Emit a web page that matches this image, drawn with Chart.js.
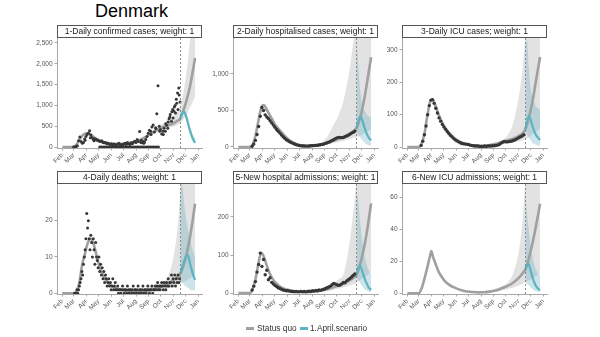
<!DOCTYPE html>
<html><head><meta charset="utf-8">
<script src="https://cdn.jsdelivr.net/npm/chart.js@4.4.1/dist/chart.umd.min.js"></script>
<style>
body{margin:0;background:#fff;width:600px;height:337px;overflow:hidden;position:relative;font-family:"Liberation Sans",Arial,sans-serif;}
canvas{position:absolute;}
#title{position:absolute;left:95px;top:2px;font-size:18px;line-height:18px;color:#000;}
.lg{position:absolute;top:323px;font-size:8.3px;line-height:10px;color:#333;white-space:nowrap;}
.sw{position:absolute;top:327px;width:8px;height:2.5px;}
</style></head><body>
<div id="title">Denmark</div>
<script>
// ---------- DATA ----------
const countryName = 'Denmark';
const seriesNames = ['Status quo', '1.April.scenario'];
const panelTitles = ['1-Daily confirmed cases; weight: 1','2-Daily hospitalised cases; weight: 1','3-Daily ICU cases; weight: 1','4-Daily deaths; weight: 1','5-New hospital admissions; weight: 1','6-New ICU admissions; weight: 1'];
const monthLabels = ['Feb','Mar','Apr','May','Jun','Jul','Aug','Sep','Oct','Nov','Dec','Jan'];
const monthDays = [32,60,91,121,152,182,213,244,274,305,335,366]; // day of year 2020
const xRange = [19, 375];
const todayDay = 322;

const fitDays = [32,60,67,74,81,88,91,95,102,109,116,123,137,151,165,179,193,207,221,235,249,263,277,291,305,315,322];
const projDays = [322,326,330,334,340,346,352,358];
const bandDays = [221,235,249,263,277,291,305,315,322,326,330,334,340,346,352,358];

// 1 - confirmed cases
const cases_obs = [0,2,10,30,150,240,130,90,110,190,250,300,330,390,290,230,180,200,190,160,170,140,130,150,110,100,110,80,90,70,60,80,50,70,60,40,70,90,50,60,40,70,90,60,110,80,60,100,80,120,140,110,180,130,370,110,100,130,120,180,250,330,400,380,480,530,360,460,800,1470,500,420,310,380,450,380,520,450,680,780,620,900,860,1000,1150,1300,1420,1080];
const cases_obsStart = 60, cases_obsStep = 3;
const cases_extraDays = [88,101,110,226,232,250,262,271,280,286,292,296,301,304,307,310,313,316,319];
const cases_extraVals = [160,220,150,160,90,300,440,380,300,560,600,720,850,700,960,820,1050,900,1250];
const cases_zeroDays = [124,128,132,136,140,144,148,152,156,160,164,168,172,176,180,184,188,192,196,200,204,208,212,216,220,224,228,232,236,240,244,248,252,256,260,264,268];
const cases_fit = [0,5,60,180,270,320,328,330,300,240,190,150,110,80,70,75,90,110,160,230,320,400,470,520,570,630,690];
const cases_sq = [690,800,900,1020,1230,1480,1800,2140];
const cases_sc = [690,800,850,800,600,380,210,100];
const cases_sqHi = [180,260,360,460,560,650,760,880,1000,1150,1350,1600,2050,2600,3000,3000];
const cases_sqLo = [140,200,280,350,410,450,490,530,570,620,680,740,840,950,1080,1220];
const cases_scHi = [700,830,900,860,660,460,300,200];
const cases_scLo = [680,760,790,700,480,300,150,60];
const cases_yTicks = [0,500,1000,1500,2000,2500];
const cases_yRange = [-24,2620];

// 2 - hospitalised
const hosp_obs = [10,40,90,170,280,420,540,500,440,410,390,360,330,300,270,240,215,190,165,140,120,100,85,72,60,50,40,32,25,20,16,14,13,12,12,14,16,18,20,22,24,27,30,35,40,50,58,66,75,88,100,112,125,132,130,128,130,140,150,160,175,190,200,215];
const hosp_obsStart = 66, hosp_obsStep = 4;
const hosp_fit = [0,0,30,150,350,530,565,575,510,440,370,300,210,125,65,32,18,15,18,30,50,80,110,140,180,220,255];
const hosp_sq = [255,310,380,460,620,810,1020,1230];
const hosp_sc = [255,340,410,400,300,200,130,90];
const hosp_sqHi = [30,60,130,270,420,650,1050,1450,1600,1600,1600,1600,1600,1600,1600,1600];
const hosp_sqLo = [12,20,32,48,65,85,105,125,135,145,155,165,185,205,225,245];
const hosp_scHi = [1400,1200,850,650,520,460,420,400];
const hosp_scLo = [240,180,140,110,70,40,25,20];
const hosp_yTicks = [0,500,1000];
const hosp_yRange = [-14,1493];

// 3 - ICU
const icu_obs = [5,18,38,65,100,128,145,146,135,120,105,90,80,70,62,55,48,42,36,31,26,22,19,16,13,11,10,9,9,8,6,5,4,3,3,3,2,2,2,3,2,3,3,3,4,4,5,6,8,12,15,17,16,16,17,18,19,21,23,26,29,32,34,38];
const icu_obsStart = 66, icu_obsStep = 4;
const icu_fit = [0,0,10,40,95,140,146,145,125,100,80,62,40,24,14,8,5,4,4,6,10,15,20,26,34,42,55];
const icu_sq = [55,70,88,108,145,190,235,278];
const icu_sc = [55,80,96,88,62,42,30,22];
const icu_sqHi = [5,8,12,20,35,70,150,240,340,360,360,360,360,360,360,360];
const icu_sqLo = [2,3,5,8,10,13,17,20,24,27,30,34,40,46,52,58];
const icu_scHi = [320,330,250,190,150,130,120,115];
const icu_scLo = [50,40,30,22,12,8,5,4];
const icu_yTicks = [0,100,200,300];
const icu_yRange = [-3,337];

// 4 - deaths
const death_obs = [0,0,0,1,0,1,2,3,4,6,5,8,10,12,15,22,18,20,15,12,16,14,10,15,12,8,14,10,9,7,10,6,8,5,7,4,6,3,5,4,2,3,4,2,3,1,2,4,1,2,3,1,1,2,0,1,1,0,1,2,1,0,1,1,0,2,1,0,1,1,0,1,2,0,1,1,0,1,2,0,1,1,0,1,2,0,1,1,0,1,2,1,0,1,1,2,0,1,1,2,1,2,3,1,2,1,2,3,2,1,3,2,1,3,2,4,2,3,3,5,2,4,3,5,2,4,3,5,3,4];
const death_obsStart = 62, death_obsStep = 2;
const death_fit = [0,0,0.5,3,8,11,12.5,14,15,13.5,10.5,7.5,4,2.2,1.3,0.9,0.6,0.5,0.5,0.6,0.9,1.3,1.9,2.7,3.6,4.5,5.5];
const death_sq = [5.5,6.5,7.8,9.3,12.3,15.8,20,24.7];
const death_sc = [5.5,7,8.5,9.8,10.5,8,5.5,3.7];
const death_sqHi = [1,1.3,1.7,2.3,3,4.5,10,18,28,33,33,33,33,33,33,33];
const death_sqLo = [0.2,0.3,0.4,0.6,0.9,1.3,1.8,2.3,2.8,3,3.2,3.4,3.8,4.2,4.6,5];
const death_scHi = [28,30,26,22,18,15,12,10];
const death_scLo = [4,3,2.5,2,1.5,1,0.8,0.6];
const death_yTicks = [0,10,20];
const death_yRange = [-0.2,30.1];

// 5 - new hospital admissions
const adm_obs = [8,18,30,55,75,105,70,88,48,60,35,40,28,24,20,17,14,12,10,8,7,6,6,5,4,4,3,4,3,3,4,3,4,3,4,5,4,6,5,7,6,8,7,9,10,12,14,16,18,22,25,24,22,20,21,24,28,27,32,35,38,42,46,50];
const adm_obsStart = 66, adm_obsStep = 4;
const adm_fit = [0,0,10,35,75,106,103,95,72,52,38,28,15,9,6,4,3,3,4,6,9,14,19,25,33,40,47];
const adm_sq = [47,58,72,88,115,150,190,236];
const adm_sc = [47,65,73,65,45,28,15,8];
const adm_sqHi = [5,8,13,22,35,52,130,220,290,300,300,300,300,300,300,300];
const adm_sqLo = [2,3.5,5,8,11,15,19,23,27,30,33,36,40,45,50,55];
const adm_scHi = [260,250,200,160,110,80,60,50];
const adm_scLo = [40,35,28,22,13,7,4,2];
const adm_yTicks = [0,100,200];
const adm_yRange = [-2.6,286.8];

// 6 - new ICU admissions (model only)
const icuadm_fit = [0,0,3,9,16,23.5,26.5,23,18,13.5,10.5,8,5,3.3,2,1.2,0.8,0.6,0.7,1.1,1.8,3,4.5,6.5,9.5,12.5,15];
const icuadm_sq = [15,18,21.5,25.5,32,39.5,47.5,56];
const icuadm_sc = [15,17.5,18.3,15,9.5,5.5,3.2,2];
const icuadm_sqHi = [1,1.8,3,4.5,6.5,12,25,45,70,72,72,72,72,72,72,72];
const icuadm_sqLo = [0.3,0.6,1,1.8,2.6,3.5,4.8,6,7,7.5,8,8.5,9.5,10.5,11.5,12.5];
const icuadm_scHi = [62,50,40,32,22,16,13,11];
const icuadm_scLo = [7,6,5,4,2.5,1.5,1,0.7];
const icuadm_yTicks = [0,20,40,60];
const icuadm_yRange = [-0.4,68.3];

// ---------- STYLE / LAYOUT ----------
const seriesColors = ['#a0a0a0', '#5bb4c1'];
const panelPos = [[57,38],[233,38],[402,38],[57,184],[233,184],[402,184]];
const YW = 40, STRIP = 13, PW = 145, PH = 110, XH = 32, PR = 6;

document.getElementById('title').textContent = countryName;

const panels = [
 {title:panelTitles[0], obs:cases_obs, obsStart:cases_obsStart, obsStep:cases_obsStep, extraDays:cases_extraDays, extraVals:cases_extraVals, zeroDays:cases_zeroDays, fit:cases_fit, sq:cases_sq, sc:cases_sc, sqHi:cases_sqHi, sqLo:cases_sqLo, scHi:cases_scHi, scLo:cases_scLo, yTicks:cases_yTicks, yRange:cases_yRange, r:1.5},
 {title:panelTitles[1], obs:hosp_obs, obsStart:hosp_obsStart, obsStep:hosp_obsStep, fit:hosp_fit, sq:hosp_sq, sc:hosp_sc, sqHi:hosp_sqHi, sqLo:hosp_sqLo, scHi:hosp_scHi, scLo:hosp_scLo, yTicks:hosp_yTicks, yRange:hosp_yRange, r:1.7},
 {title:panelTitles[2], obs:icu_obs, obsStart:icu_obsStart, obsStep:icu_obsStep, fit:icu_fit, sq:icu_sq, sc:icu_sc, sqHi:icu_sqHi, sqLo:icu_sqLo, scHi:icu_scHi, scLo:icu_scLo, yTicks:icu_yTicks, yRange:icu_yRange, r:1.7},
 {title:panelTitles[3], obs:death_obs, obsStart:death_obsStart, obsStep:death_obsStep, fit:death_fit, sq:death_sq, sc:death_sc, sqHi:death_sqHi, sqLo:death_sqLo, scHi:death_scHi, scLo:death_scLo, yTicks:death_yTicks, yRange:death_yRange, r:1.5},
 {title:panelTitles[4], obs:adm_obs, obsStart:adm_obsStart, obsStep:adm_obsStep, fit:adm_fit, sq:adm_sq, sc:adm_sc, sqHi:adm_sqHi, sqLo:adm_sqLo, scHi:adm_scHi, scLo:adm_scLo, yTicks:adm_yTicks, yRange:adm_yRange, r:1.7},
 {title:panelTitles[5], obs:null, fit:icuadm_fit, sq:icuadm_sq, sc:icuadm_sc, sqHi:icuadm_sqHi, sqLo:icuadm_sqLo, scHi:icuadm_scHi, scLo:icuadm_scLo, yTicks:icuadm_yTicks, yRange:icuadm_yRange}
];

const xy = (days, vals) => days.map((d, i) => ({x: d, y: vals[i]}));

const stripPlugin = {
  id: 'strip',
  afterDraw(chart, args, opts) {
    const {left, right, top} = chart.chartArea;
    const ctx = chart.ctx;
    ctx.save();
    ctx.fillStyle = '#fff';
    ctx.fillRect(left, top - STRIP, right - left, STRIP);
    ctx.strokeStyle = '#555';
    ctx.lineWidth = 1;
    ctx.strokeRect(Math.round(left) + 0.5, Math.round(top - STRIP) + 0.5, Math.round(right - left) - 1, STRIP - 1);
    ctx.fillStyle = '#1a1a1a';
    ctx.font = '8.5px "Liberation Sans", Arial, sans-serif';
    ctx.textAlign = 'center';
    ctx.textBaseline = 'middle';
    ctx.fillText(opts.text, (left + right) / 2, top - STRIP / 2 + 0.5);
    ctx.restore();
  }
};
const todayPlugin = {
  id: 'today',
  afterDatasetsDraw(chart) {
    const x = Math.round(chart.scales.x.getPixelForValue(todayDay)) + 0.5;
    const {top, bottom} = chart.chartArea;
    const ctx = chart.ctx;
    ctx.save();
    ctx.strokeStyle = '#8a8a8a';
    ctx.lineWidth = 1;
    ctx.setLineDash([2, 2]);
    ctx.beginPath(); ctx.moveTo(x, top); ctx.lineTo(x, bottom); ctx.stroke();
    ctx.restore();
  }
};

const tickFont = {family: '"Liberation Sans", Arial, sans-serif', size: 6.5};
const axisCol = '#a8a8a8';

panels.forEach((p, k) => {
  const [L, T] = panelPos[k];
  const c = document.createElement('canvas');
  c.width = YW + PW + PR; c.height = STRIP + PH + XH;
  c.style.left = (L - YW) + 'px'; c.style.top = (T - STRIP) + 'px';
  c.style.width = c.width + 'px'; c.style.height = c.height + 'px';
  document.body.appendChild(c);

  const ds = [];
  if (p.obs) {
    const pts = p.obs.map((v, i) => ({x: p.obsStart + i * p.obsStep, y: v}));
    if (p.extraDays) p.extraDays.forEach((d, i) => pts.push({x: d, y: p.extraVals[i]}));
    if (p.zeroDays) p.zeroDays.forEach(d => pts.push({x: d, y: 0}));
    ds.push({data: pts, showLine: false, pointRadius: p.r, pointBackgroundColor: '#363636', pointBorderWidth: 0, pointBorderColor: 'rgba(0,0,0,0)'});
  }
  const lineBase = {showLine: true, pointRadius: 0, cubicInterpolationMode: 'monotone', fill: false};
  ds.push(Object.assign({}, lineBase, {data: xy(projDays, p.sc), borderColor: seriesColors[1], borderWidth: 2.2}));
  ds.push(Object.assign({}, lineBase, {data: xy(fitDays.concat(projDays.slice(1)), p.fit.concat(p.sq.slice(1))), borderColor: seriesColors[0], borderWidth: 2.6}));
  const bandBase = {showLine: true, pointRadius: 0, cubicInterpolationMode: 'monotone', borderColor: 'rgba(0,0,0,0)', borderWidth: 1};
  ds.push(Object.assign({}, bandBase, {data: xy(projDays, p.scHi), fill: '+1', backgroundColor: 'rgba(95,170,190,0.32)'}));
  ds.push(Object.assign({}, bandBase, {data: xy(projDays, p.scLo), fill: false}));
  ds.push(Object.assign({}, bandBase, {data: xy(bandDays, p.sqHi), fill: '+1', backgroundColor: 'rgba(150,150,150,0.28)'}));
  ds.push(Object.assign({}, bandBase, {data: xy(bandDays, p.sqLo), fill: false}));

  new Chart(c, {
    type: 'scatter',
    data: {datasets: ds},
    plugins: [stripPlugin, todayPlugin],
    options: {
      responsive: false, animation: false, devicePixelRatio: 1, events: [],
      layout: {padding: {top: STRIP, right: PR, left: 0, bottom: 0}},
      plugins: {legend: {display: false}, tooltip: {enabled: false}, strip: {text: p.title}},
      scales: {
        x: {
          type: 'linear', min: xRange[0], max: xRange[1],
          afterBuildTicks: s => { s.ticks = monthDays.map(v => ({value: v})); },
          afterFit: s => { s.height = XH; },
          ticks: {autoSkip: false, minRotation: 45, maxRotation: 45, font: tickFont, color: '#555', padding: 1,
                  callback: v => { const i = monthDays.indexOf(v); return i >= 0 ? monthLabels[i] : ''; }},
          grid: {drawOnChartArea: false, drawTicks: true, tickLength: 2.5, color: axisCol},
          border: {display: true, color: axisCol, width: 1}
        },
        y: {
          type: 'linear', min: p.yRange[0], max: p.yRange[1],
          afterBuildTicks: s => { s.ticks = p.yTicks.map(v => ({value: v})); },
          afterFit: s => { s.width = YW; },
          ticks: {font: tickFont, color: '#555', padding: 2, callback: v => v.toLocaleString('en-US')},
          grid: {drawOnChartArea: false, drawTicks: true, tickLength: 2.5, color: axisCol},
          border: {display: true, color: axisCol, width: 1}
        }
      }
    }
  });
});

// legend
const lgPos = [[246, 257], [300, 310]];
seriesNames.forEach((n, i) => {
  const sw = document.createElement('div');
  sw.className = 'sw'; sw.style.left = lgPos[i][0] + 'px'; sw.style.background = seriesColors[i];
  document.body.appendChild(sw);
  const t = document.createElement('div');
  t.className = 'lg'; t.style.left = lgPos[i][1] + 'px'; t.textContent = n;
  document.body.appendChild(t);
});
</script>
</body></html>
